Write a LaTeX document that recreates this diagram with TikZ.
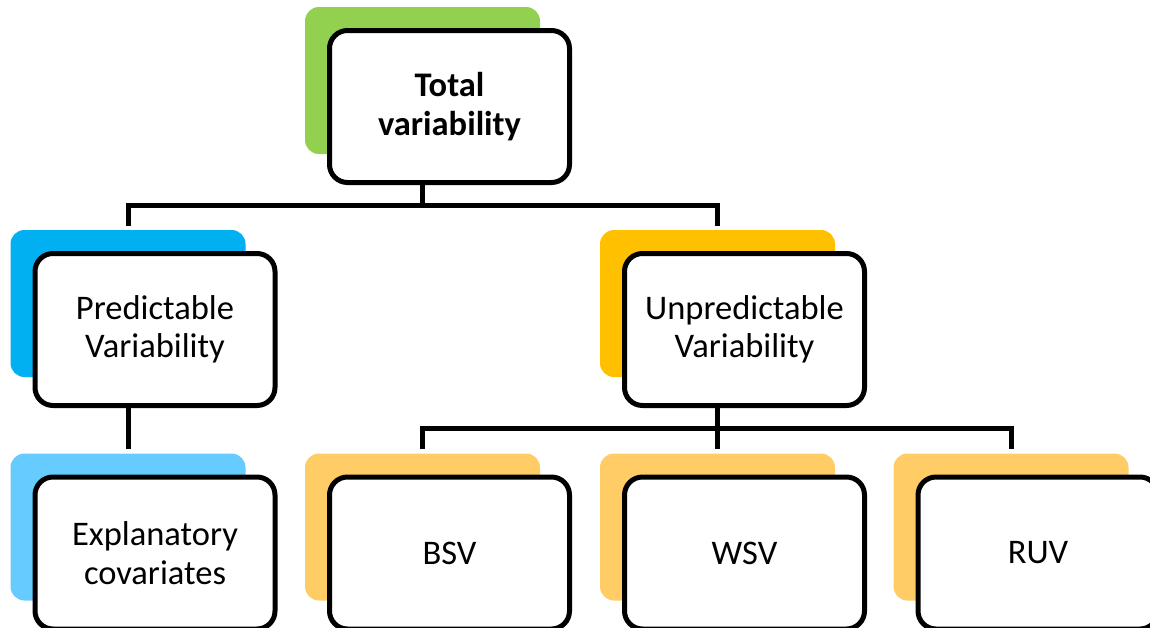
\documentclass[tikz,border=0pt]{standalone}
\usepackage{fontspec}
\setmainfont{Carlito}
\usetikzlibrary{calc}
\definecolor{cgreen}{HTML}{92D050}
\definecolor{cblue}{HTML}{00B0F0}
\definecolor{corange}{HTML}{FFC000}
\definecolor{clblue}{HTML}{66CCFF}
\definecolor{clorange}{HTML}{FFCC66}
\begin{document}
\begin{tikzpicture}[x=1pt,y=-1pt,
  backbox/.style={draw=none, rounded corners=14pt, minimum width=235pt, minimum height=147pt, inner sep=0pt},
  frontbox/.style={draw=black, line width=5pt, fill=white, rounded corners=18pt, minimum width=240pt, minimum height=152pt, align=center, inner sep=0pt, font=\fontsize{34.5}{38.5}\selectfont},
  conn/.style={draw=black, line width=5pt}]
\useasboundingbox (0,0) rectangle (1150,627);
% back boxes
\node[backbox, fill=cgreen] (topb) at (422.5,80.5) {};
\node[backbox, fill=cblue] (predb) at (128,303.5) {};
\node[backbox, fill=corange] (unpredb) at (717.5,303.5) {};
\node[backbox, fill=clblue] (expb) at (128,527) {};
\node[backbox, fill=clorange] (bsvb) at (422.5,527) {};
\node[backbox, fill=clorange] (wsvb) at (717.5,527) {};
\node[backbox, fill=clorange] (ruvb) at (1011,527) {};
% front boxes
\node[frontbox] (top) at (449.5,106.5) {\bfseries Total\\\bfseries variability};
\node[frontbox] (pred) at (155,329.5) {Predictable\\Variability};
\node[frontbox] (unpred) at (744.5,329.5) {Unpredictable\\Variability};
\node[frontbox] (exp) at (155,553) {Explanatory\\covariates};
\node[frontbox] (bsv) at (449.5,553) {BSV};
\node[frontbox] (wsv) at (744.5,553) {WSV};
\node[frontbox] (ruv) at (1038,553) {RUV};
% connectors
\coordinate (h1) at (0,205);
\coordinate (h2) at (0,428);
\draw[conn] (topb.center |- top.south) -- (topb.center |- h1);
\draw[conn] ([yshift=4pt]predb.north) |- (topb.center |- h1) -| ([yshift=4pt]unpredb.north);
\draw[conn] (predb.center |- pred.south) -- ([yshift=4pt]expb.north);
\draw[conn] (unpredb.center |- unpred.south) -- (unpredb.center |- h2);
\draw[conn] ([yshift=4pt]bsvb.north) |- (unpredb.center |- h2) -| ([yshift=4pt]ruvb.north);
\draw[conn] (unpredb.center |- h2) -- ([yshift=4pt]wsvb.north);
\end{tikzpicture}
\end{document}
